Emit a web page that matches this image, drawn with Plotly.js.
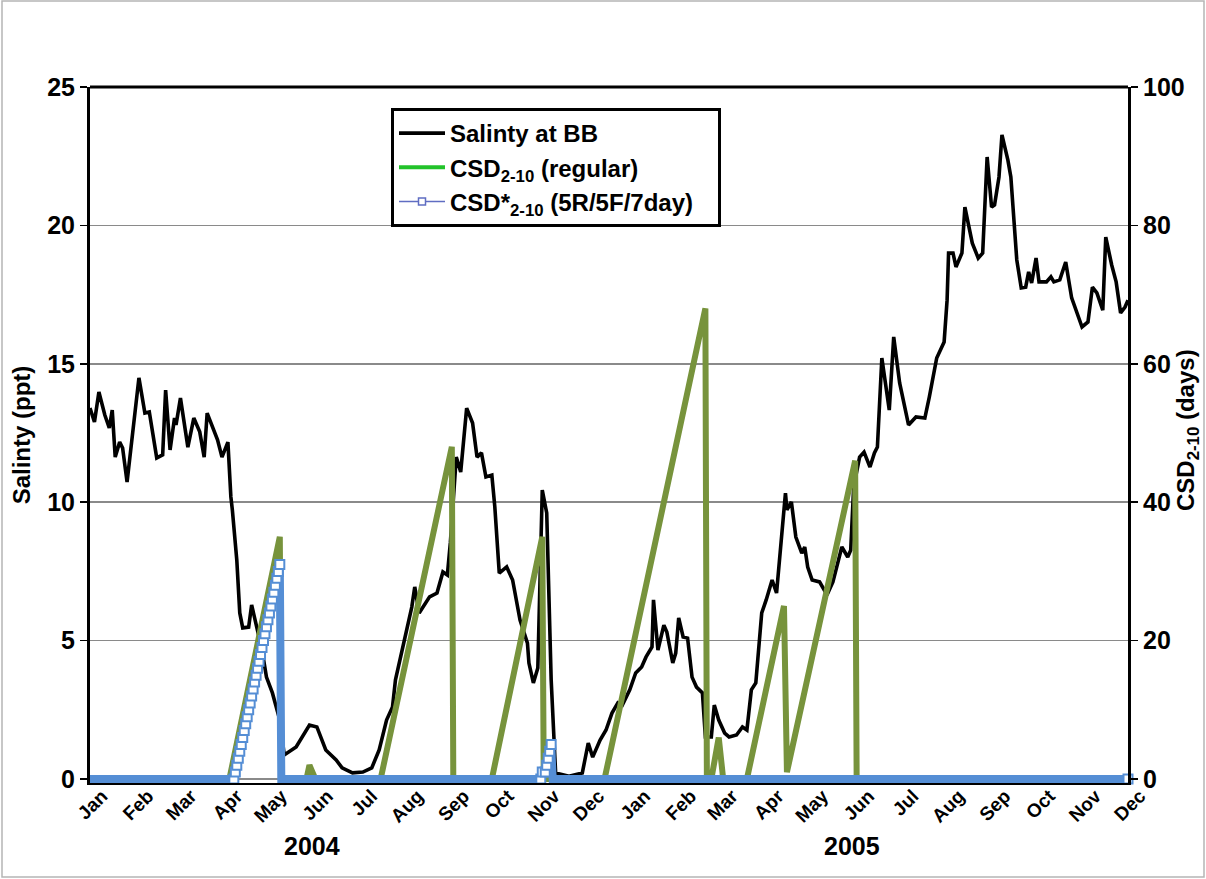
<!DOCTYPE html>
<html>
<head>
<meta charset="utf-8">
<script src="https://cdn.plot.ly/plotly-3.0.1.min.js"></script>
<style>
  html, body { margin: 0; padding: 0; background: #fff; }
  #chart { width: 1206px; height: 879px; }
</style>
</head>
<body>
<div id="chart"></div>
<script>
// ---------- DATA ----------
const salDates = ['2004-01-01','2004-01-04','2004-01-07','2004-01-11','2004-01-14','2004-01-16','2004-01-18','2004-01-21','2004-01-23','2004-01-26',
  '2004-02-03','2004-02-07','2004-02-10','2004-02-15','2004-02-19','2004-02-21','2004-02-24','2004-02-27','2004-02-28','2004-03-02',
  '2004-03-07','2004-03-11','2004-03-15','2004-03-18','2004-03-20','2004-03-23','2004-03-27','2004-03-30','2004-04-03','2004-04-05',
  '2004-04-06','2004-04-09','2004-04-11','2004-04-13','2004-04-17','2004-04-19','2004-04-22','2004-04-26','2004-04-29','2004-05-03',
  '2004-05-08','2004-05-11','2004-05-19','2004-05-28','2004-06-02','2004-06-08','2004-06-15','2004-06-19','2004-06-26','2004-07-03',
  '2004-07-09','2004-07-14','2004-07-19','2004-07-23','2004-07-25','2004-08-05','2004-08-07','2004-08-10','2004-08-17','2004-08-22',
  '2004-08-26','2004-08-29','2004-08-31','2004-09-04','2004-09-07','2004-09-11','2004-09-15','2004-09-18','2004-09-21','2004-09-24',
  '2004-09-28','2004-09-30','2004-10-03','2004-10-08','2004-10-12','2004-10-17','2004-10-22','2004-10-23','2004-10-26','2004-10-29',
  '2004-11-01','2004-11-04','2004-11-07','2004-11-10','2004-11-19','2004-11-28','2004-12-02','2004-12-05','2004-12-10','2004-12-14',
  '2004-12-18','2004-12-22','2004-12-25','2004-12-30','2005-01-03','2005-01-07','2005-01-10','2005-01-14','2005-01-15','2005-01-18',
  '2005-01-22','2005-01-24','2005-01-28','2005-01-30','2005-02-01','2005-02-04','2005-02-07','2005-02-10','2005-02-13','2005-02-17',
  '2005-02-19','2005-02-23','2005-02-25','2005-02-28','2005-03-04','2005-03-07','2005-03-12','2005-03-16','2005-03-19','2005-03-22',
  '2005-03-25','2005-03-29','2005-04-01','2005-04-05','2005-04-08','2005-04-14','2005-04-15','2005-04-18','2005-04-21','2005-04-25',
  '2005-04-27','2005-04-29','2005-05-02','2005-05-07','2005-05-12','2005-05-16','2005-05-22','2005-05-26','2005-05-28','2005-05-30',
  '2005-06-03','2005-06-06','2005-06-10','2005-06-13','2005-06-15','2005-06-18','2005-06-23','2005-06-26','2005-06-30','2005-07-06',
  '2005-07-11','2005-07-17','2005-07-20','2005-07-25','2005-07-30','2005-08-01','2005-08-02','2005-08-05','2005-08-07','2005-08-11',
  '2005-08-13','2005-08-18','2005-08-22','2005-08-25','2005-08-28','2005-08-31','2005-09-02','2005-09-05','2005-09-07','2005-09-11',
  '2005-09-13','2005-09-17','2005-09-20','2005-09-23','2005-09-25','2005-09-27','2005-09-30','2005-10-02','2005-10-07','2005-10-10',
  '2005-10-12','2005-10-16','2005-10-20','2005-10-24','2005-10-31','2005-11-04','2005-11-07','2005-11-10','2005-11-14','2005-11-16',
  '2005-11-20','2005-11-23','2005-11-26','2005-11-29','2005-12-01'];
const salValues = [13.40,12.90,13.98,13.15,12.68,13.33,11.63,12.17,11.96,10.73,
  14.49,13.22,13.26,11.60,11.71,14.05,11.89,13.04,12.79,13.76,
  11.99,13.04,12.54,11.63,13.22,12.79,12.25,11.63,12.17,10.19,
  9.72,7.91,6.00,5.46,5.49,6.29,5.64,4.66,3.68,3.11,
  2.13,0.87,1.16,1.95,1.88,1.05,0.69,0.40,0.22,0.25,
  0.40,1.05,2.13,2.60,3.58,6.21,6.94,6.00,6.58,6.72,
  7.48,7.37,8.53,11.63,11.09,13.40,12.86,11.63,11.78,10.91,
  10.98,9.83,7.44,7.66,7.19,5.74,4.91,4.19,3.47,4.01,
  10.44,9.61,3.58,0.22,0.10,0.22,1.30,0.79,1.41,1.77,
  2.38,2.75,2.67,3.22,3.83,4.05,4.41,4.77,6.47,4.66,
  5.56,5.31,4.19,4.55,5.82,5.13,5.09,3.68,3.32,3.11,
  1.52,1.52,2.67,2.13,1.66,1.52,1.59,1.88,1.77,3.22,
  3.47,6.00,6.47,7.19,6.72,10.33,9.72,10.01,8.74,8.16,
  8.38,7.66,7.19,7.12,6.65,7.12,8.38,8.02,8.27,10.55,
  11.63,11.81,11.27,11.78,11.99,15.21,13.33,15.97,14.31,12.79,
  13.08,13.04,13.80,15.21,15.79,17.30,19.00,19.00,18.50,19.00,
  20.66,19.36,18.82,19.00,22.47,20.66,20.74,21.75,23.27,22.36,
  21.75,18.75,17.74,17.77,18.32,17.92,18.82,17.96,17.96,18.14,
  17.96,18.03,18.68,17.38,16.33,16.51,17.77,17.56,16.94,19.58,
  18.57,17.96,16.84,17.05,17.30];

const csdDates = ['2004-01-01','2004-04-04','2004-05-08','2004-05-09','2004-05-26','2004-05-28','2004-05-30','2004-06-01',
  '2004-07-15','2004-09-01','2004-09-02','2004-09-28','2004-11-01','2004-11-02','2004-12-13','2005-02-19','2005-02-20',
  '2005-02-23','2005-02-28','2005-03-03','2005-03-19','2005-04-13','2005-04-15','2005-05-31','2005-06-01','2005-12-01'];
const csdValues = [0,0,35,0,0,2,1,0,
  0,48,0,0,35,0,0,68,0,
  0,6,0,0,25,1,46,0,0];

const csdStarDates = ['2004-01-01','2004-04-07','2004-04-08','2004-04-09','2004-04-10','2004-04-11','2004-04-12','2004-04-13',
  '2004-04-14','2004-04-15','2004-04-16','2004-04-17','2004-04-18','2004-04-19','2004-04-20','2004-04-21','2004-04-22',
  '2004-04-23','2004-04-24','2004-04-25','2004-04-26','2004-04-27','2004-04-28','2004-04-29','2004-04-30','2004-05-01',
  '2004-05-02','2004-05-03','2004-05-04','2004-05-05','2004-05-06','2004-05-07','2004-05-08','2004-05-09',
  '2004-10-31','2004-11-01','2004-11-03','2004-11-04','2004-11-05','2004-11-06','2004-11-07','2004-11-08','2005-12-01'];
const csdStarValues = [0,0,1,2,3,4,5,6,
  7,8,9,10,11,12,13,14,15,
  16,17,18,19,20,21,22,23,24,
  25,26,27,28,29,30,31,0,
  0,1,1,2,3,4,5,0,0];

const yearLabels = ['2004', '2005'];
const yearCenters = ['2004-05-30', '2005-05-29'];

// ---------- STYLE ----------
const FONT = 'Liberation Sans, Arial, sans-serif';
const BLUE = '#558ED5';
const OLIVE = '#77933C';

const starMarkerSizes = csdStarValues.map((v, i) => {
  if (i === 0) return 0;
  if (v === 0 && csdStarValues[i - 1] > 0) return 0;
  return 9;
});

const traces = [
  { x: salDates, y: salValues, type: 'scatter', mode: 'lines', name: 'Salinty at BB',
    line: { color: '#000', width: 3.6 }, yaxis: 'y' },
  { x: csdDates, y: csdValues, type: 'scatter', mode: 'lines', name: 'CSD<sub>2-10</sub> (regular)',
    line: { color: OLIVE, width: 6 }, yaxis: 'y2', showlegend: false },
  { x: csdStarDates, y: csdStarValues, type: 'scatter', mode: 'lines+markers', name: 'CSD*<sub>2-10</sub> (5R/5F/7day)',
    line: { color: BLUE, width: 8 }, yaxis: 'y2', showlegend: false, cliponaxis: false,
    marker: { symbol: 'square', size: starMarkerSizes, color: '#ffffff', opacity: 1, line: { color: BLUE, width: 2 } } },
  // legend-only entries (legend styles differ from plotted styles in the original)
  { x: [null], y: [null], type: 'scatter', mode: 'lines', name: 'CSD<sub>2-10</sub> (regular)',
    line: { color: '#22C32A', width: 4 }, yaxis: 'y2' },
  { x: [null], y: [null], type: 'scatter', mode: 'lines+markers', name: 'CSD*<sub>2-10</sub> (5R/5F/7day)&nbsp;&nbsp;&nbsp;',
    line: { color: '#5F6DC2', width: 1.5 }, yaxis: 'y2',
    marker: { symbol: 'square', size: 7, color: '#fff', line: { color: '#5F6DC2', width: 1.5 } } }
];

const L = 90, R = 78, T = 87, B = 96;
const W = 1206, H = 879;
const pw = W - L - R, ph = H - T - B;
const px2x = px => (px - L) / pw;
const px2y = py => (H - B - py) / ph;

const layout = {
  width: W, height: H,
  margin: { l: L, r: R, t: T, b: B, pad: 0 },
  paper_bgcolor: '#fff', plot_bgcolor: '#fff',
  font: { family: FONT, size: 22, color: '#000', weight: 'bold' },
  showlegend: true,
  legend: {
    x: px2x(391), y: px2y(108), xanchor: 'left', yanchor: 'top',
    bgcolor: '#fff', bordercolor: '#000', borderwidth: 3,
    font: { family: FONT, size: 24, color: '#000', weight: 'bold' },
    traceorder: 'normal', tracegroupgap: 0, itemwidth: 46
  },
  xaxis: {
    type: 'date', range: ['2004-01-01', '2005-12-01'],
    tick0: '2004-01-01', dtick: 'M1', tickformat: '%b', tickangle: -45,
    tickfont: { family: FONT, size: 19, color: '#000', weight: 'bold' },
    ticklabelshift: 12, ticklabelstandoff: -7,
    showgrid: false, zeroline: false,
    showline: true, linecolor: '#000', linewidth: 1.5,
    ticks: '', fixedrange: true
  },
  yaxis: {
    range: [-0.1445, 25], tickvals: [0, 5, 10, 15, 20, 25],
    tickfont: { family: FONT, size: 25, color: '#000', weight: 'bold' },
    title: { text: 'Salinty (ppt)', font: { family: FONT, size: 24, color: '#000', weight: 'bold' }, standoff: 10 },
    showgrid: true, gridcolor: '#8a8a8a', gridwidth: 1.5,
    zeroline: false, showline: true, linecolor: '#000', linewidth: 3,
    ticks: 'outside', ticklen: 7, tickwidth: 1.5, tickcolor: '#000'
  },
  yaxis2: {
    range: [-0.578, 100], tickvals: [0, 20, 40, 60, 80, 100],
    overlaying: 'y', side: 'right',
    tickfont: { family: FONT, size: 25, color: '#000', weight: 'bold' },
    showgrid: false, zeroline: false, showline: true, linecolor: '#000', linewidth: 3,
    ticks: 'outside', ticklen: 7, tickwidth: 1.5, tickcolor: '#000'
  },
  shapes: [
    { type: 'line', xref: 'paper', yref: 'paper', x0: 0, x1: 1, y0: 1, y1: 1,
      line: { color: '#000', width: 3 } },
    { type: 'rect', xref: 'paper', yref: 'paper',
      x0: px2x(2), x1: px2x(1204), y0: px2y(877), y1: px2y(1),
      line: { color: '#b5b5b5', width: 1.5 }, fillcolor: 'rgba(0,0,0,0)', layer: 'below' }
  ],
  annotations: yearLabels.map((t, i) => ({
    text: t, x: yearCenters[i], xref: 'x', y: px2y(846), yref: 'paper',
    showarrow: false, xanchor: 'center', yanchor: 'middle',
    font: { family: FONT, size: 25, color: '#000', weight: 'bold' }
  })).concat([{
    // right-hand axis title (placed as in the original, overlapping tick-label column)
    text: 'CSD<sub>2-10</sub> (days)', textangle: -90,
    x: px2x(1187), xref: 'paper', y: px2y(430), yref: 'paper',
    showarrow: false, xanchor: 'center', yanchor: 'middle',
    font: { family: FONT, size: 24, color: '#000', weight: 'bold' }
  }])
};

Plotly.newPlot('chart', traces, layout, { displayModeBar: false, staticPlot: true });
</script>
</body>
</html>
